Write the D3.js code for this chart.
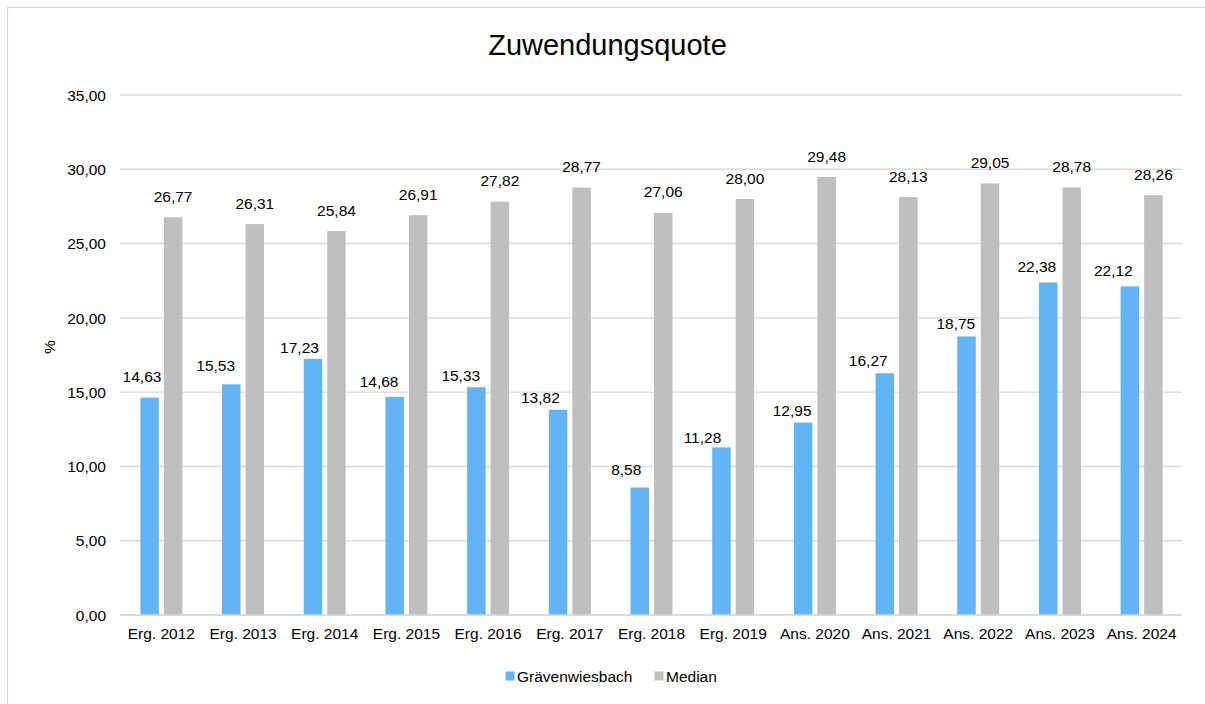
<!DOCTYPE html>
<html>
<head>
<meta charset="utf-8">
<script src="https://cdn.jsdelivr.net/npm/d3@7"></script>
<style>
  html, body { margin: 0; padding: 0; background: #fff; }
  svg { display: block; font-family: "Liberation Sans", Arial, sans-serif; }
</style>
</head>
<body>
<svg id="chart" width="1205" height="704"></svg>
<script>
// ---- data ----
const categories = ["Erg. 2012", "Erg. 2013", "Erg. 2014", "Erg. 2015", "Erg. 2016", "Erg. 2017",
  "Erg. 2018", "Erg. 2019", "Ans. 2020", "Ans. 2021", "Ans. 2022", "Ans. 2023", "Ans. 2024"];
const seriesNames = ["Grävenwiesbach", "Median"];
const graevenwiesbach = [14.63, 15.53, 17.23, 14.68, 15.33, 13.82, 8.58, 11.28, 12.95, 16.27, 18.75, 22.38, 22.12];
const median = [26.77, 26.31, 25.84, 26.91, 27.82, 28.77, 27.06, 28.00, 29.48, 28.13, 29.05, 28.78, 28.26];
const yTicks = [0, 5, 10, 15, 20, 25, 30, 35];
const titleText = "Zuwendungsquote";
const yAxisTitle = "%";

// manual label nudges for the first series (as placed in the original)
const labelNudgeX = [-7.6, -15.6, -13.5, -15.6, -15.6, -17.7, -13.5, -19, -11, -16.6, -10.7, -11.4, -16.6];
const labelNudgeY = [0, 2.5, 9, 6, 9, 8.5, 3, 11.5, 8.5, 8.5, 8, 5, 5.5];

// ---- setup ----
const colors = ["#63b4f5", "#bfbfbf"];
const seriesValues = [graevenwiesbach, median];
const locale = d3.formatLocale({decimal: ",", thousands: ".", grouping: [3], currency: ["", " €"]});
const fmt = locale.format(".2f");

const svg = d3.select("#chart");
const fontSize = 15.5;

// chart border
svg.append("rect")
  .attr("x", 7.5).attr("y", 7.5)
  .attr("width", 1210).attr("height", 710)
  .attr("fill", "#fff").attr("stroke", "#d9d9d9").attr("stroke-width", 1.3);

const x0 = d3.scaleBand().domain(categories).range([120.5, 1182.5]).paddingInner(0).paddingOuter(0);
const x1 = d3.scaleBand().domain(seriesNames).range([-21, 21]).paddingInner(0.213).paddingOuter(0);
const y = d3.scaleLinear().domain([0, 35]).range([615, 95]);

// gridlines
svg.append("g").selectAll("line")
  .data(yTicks)
  .join("line")
  .attr("x1", 120).attr("x2", 1182)
  .attr("y1", d => y(d)).attr("y2", d => y(d))
  .attr("stroke", "#d9d9d9").attr("stroke-width", 1.4);

// y tick labels
const yAxis = d3.axisLeft(y).tickValues(yTicks).tickFormat(fmt).tickSize(0).tickPadding(0);
const gy = svg.append("g").attr("transform", "translate(106,0)").call(yAxis);
gy.select(".domain").remove();
gy.selectAll("text")
  .attr("font-size", fontSize).attr("font-family", "Liberation Sans, Arial, sans-serif")
  .attr("fill", "#000").attr("dy", "0.34em");

// x axis labels
const xAxis = d3.axisBottom(x0).tickSize(0).tickPadding(0);
const gx = svg.append("g").attr("transform", "translate(0,627)").call(xAxis);
gx.select(".domain").remove();
gx.selectAll("text")
  .attr("font-size", fontSize).attr("font-family", "Liberation Sans, Arial, sans-serif")
  .attr("fill", "#000").attr("dy", "0.77em");

// bars
const groups = svg.append("g").selectAll("g")
  .data(categories)
  .join("g")
  .attr("transform", d => `translate(${x0(d) + x0.bandwidth() / 2},0)`);

seriesNames.forEach((s, si) => {
  groups.append("rect")
    .attr("x", x1(s))
    .attr("width", x1.bandwidth())
    .attr("y", (d, i) => y(seriesValues[si][i]))
    .attr("height", (d, i) => y(0) - y(seriesValues[si][i]))
    .attr("fill", colors[si]);
});

// baseline axis line
svg.append("line")
  .attr("x1", 120).attr("x2", 1182)
  .attr("y1", y(0)).attr("y2", y(0))
  .attr("stroke", "#d9d9d9").attr("stroke-width", 1.4);

// data labels
seriesNames.forEach((s, si) => {
  groups.append("text")
    .attr("x", (d, i) => x1(s) + x1.bandwidth() / 2 + (si === 0 ? labelNudgeX[i] : 0))
    .attr("y", (d, i) => y(seriesValues[si][i]) - 15.5 + (si === 0 ? labelNudgeY[i] : 0))
    .attr("text-anchor", "middle")
    .attr("font-size", fontSize)
    .attr("fill", "#000")
    .text((d, i) => fmt(seriesValues[si][i]));
});

// title
svg.append("text")
  .attr("x", 607.5).attr("y", 55)
  .attr("text-anchor", "middle")
  .attr("font-size", 29)
  .attr("fill", "#000")
  .text(titleText);

// y axis title
svg.append("text")
  .attr("transform", "translate(55,347) rotate(-90)")
  .attr("text-anchor", "middle")
  .attr("font-size", fontSize)
  .attr("fill", "#000")
  .text(yAxisTitle);

// legend
const legendItems = [
  {name: seriesNames[0], color: colors[0], x: 505.5},
  {name: seriesNames[1], color: colors[1], x: 654.5}
];
const lg = svg.append("g").selectAll("g").data(legendItems).join("g")
  .attr("transform", d => `translate(${d.x},0)`);
lg.append("rect").attr("x", 0).attr("y", 671.5).attr("width", 9).attr("height", 9).attr("fill", d => d.color);
lg.append("text").attr("x", 11.5).attr("y", 681.5).attr("font-size", fontSize).attr("fill", "#000").text(d => d.name);
</script>
</body>
</html>
